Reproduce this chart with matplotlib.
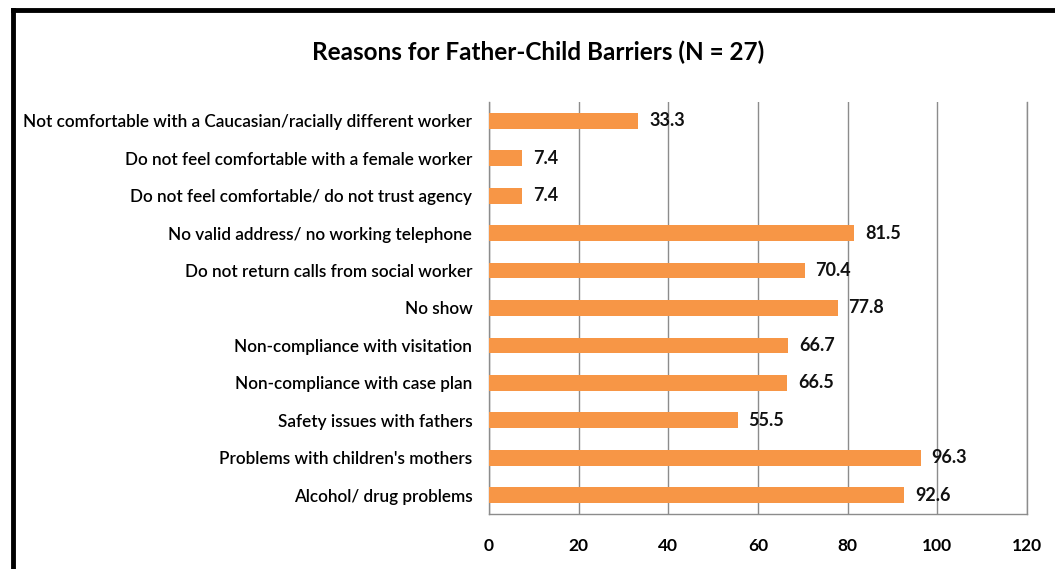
import matplotlib.pyplot as plt
from matplotlib.lines import Line2D

plt.rcParams["font.family"] = ["Lato", "DejaVu Sans"]

# categories listed top to bottom as in the chart
reasons = [
    "Not comfortable with a Caucasian/racially different worker",
    "Do not feel comfortable with a female worker",
    "Do not feel comfortable/ do not trust agency",
    "No valid address/ no working telephone",
    "Do not return calls from social worker",
    "No show",
    "Non-compliance with visitation",
    "Non-compliance with case plan",
    "Safety issues with fathers",
    "Problems with children's mothers",
    "Alcohol/ drug problems",
]
percents = [33.3, 7.4, 7.4, 81.5, 70.4, 77.8, 66.7, 66.5, 55.5, 96.3, 92.6]
x_ticks = [0, 20, 40, 60, 80, 100, 120]

BAR_COLOR = "#F79646"
GRID_COLOR = "#8c8c8c"

W, H = 1055, 569
fig = plt.figure(figsize=(W / 100, H / 100), dpi=100)
ax = fig.add_axes([489 / W, (H - 514) / H, (1027 - 489) / W, (514 - 102) / H])

y_pos = list(range(len(reasons)))
ax.barh(y_pos, percents, height=0.42, color=BAR_COLOR, zorder=3)
for y, v in zip(y_pos, percents):
    ax.text(v + 2.4, y, f"{v:.1f}", va="center", ha="left",
            fontsize=13, fontweight="bold", color="#111111", zorder=4)

ax.set_xlim(0, 120)
ax.set_ylim(len(reasons) - 0.5, -0.5)
ax.set_xticks(x_ticks)
ax.set_xticklabels([str(t) for t in x_ticks], fontsize=12.5, fontweight="bold")
ax.set_yticks(y_pos)
ax.set_yticklabels(reasons, fontsize=12.3, fontweight="semibold")
ax.tick_params(axis="y", length=0, pad=12)
ax.tick_params(axis="x", length=0, pad=17)

ax.grid(axis="x", color=GRID_COLOR, linewidth=1.0, zorder=0)
for side in ["top"]:
    ax.spines[side].set_visible(False)
for side in ["left", "right", "bottom"]:
    ax.spines[side].set_color(GRID_COLOR)
    ax.spines[side].set_linewidth(1.0)

fig.text(538 / W, 1 - 52 / H, "Reasons for Father-Child Barriers (N = 27)",
         ha="center", va="center", fontsize=17.5, fontweight="bold")

# black frame from the source document (runs off the right and bottom edge)
fig.add_artist(Line2D([13 / W, 1.01], [1 - 10 / H, 1 - 10 / H],
                      transform=fig.transFigure, color="black", linewidth=3.5))
fig.add_artist(Line2D([13 / W, 13 / W], [1 - 10 / H, -0.01],
                      transform=fig.transFigure, color="black", linewidth=3.5))
# cut-off caption above the frame
fig.text(10 / W, 1 + 3 / H, "Figure", ha="left", va="baseline",
         fontsize=14, fontweight="bold")

fig.savefig("out.png", dpi=100)
